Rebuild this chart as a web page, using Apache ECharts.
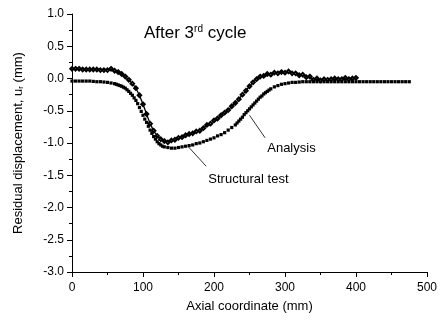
<!DOCTYPE html>
<html><head><meta charset="utf-8">
<script src="https://cdn.jsdelivr.net/npm/echarts@6/dist/echarts.min.js"></script>
<style>html,body{margin:0;padding:0;background:#fff}#c{width:440px;height:327px}</style>
</head><body><div id="c"></div>
<script>
var xTicks = [0, 100, 200, 300, 400, 500];
var yTicks = [-3.0, -2.5, -2.0, -1.5, -1.0, -0.5, 0.0, 0.5, 1.0];

var testX = [0,5,10,15,20,25,30,35,40,45,50,55,60,65,70,75,80,85,90,95,100,105,110,115,120,125,130,135,140,145,150,155,160,165,170,175,180,185,190,195,200,205,210,215,220,225,230,235,240,245,250,255,260,265,270,275,280,285,290,295,300,305,310,315,320,325,330,335,340,345,350,355,360,365,370,375,380,385,390,395,400];
var testY = [0.15,0.15,0.15,0.14,0.14,0.14,0.14,0.14,0.13,0.13,0.13,0.15,0.12,0.10,0.07,0.03,-0.02,-0.08,-0.15,-0.26,-0.40,-0.55,-0.70,-0.81,-0.89,-0.94,-0.97,-0.99,-0.96,-0.95,-0.92,-0.91,-0.88,-0.86,-0.85,-0.82,-0.81,-0.77,-0.72,-0.70,-0.65,-0.62,-0.57,-0.53,-0.49,-0.43,-0.38,-0.32,-0.25,-0.19,-0.12,-0.06,-0.01,0.03,0.04,0.07,0.06,0.09,0.08,0.10,0.09,0.11,0.08,0.08,0.05,0.06,0.02,0.03,-0.02,0.00,-0.03,-0.01,-0.02,-0.01,0.00,-0.01,-0.01,0.01,-0.01,0.00,0.01];

var analysisX = [0,5,10,15,20,25,30,35,40,45,50,55,60,62.5,65,67.5,70,72.5,75,77.5,80,82.5,85,87.5,90,92.5,95,97.5,100,102.5,105,107.5,110,112.5,115,117.5,120,122.5,125,127.5,130,135,140,145,150,155,160,165,170,175,180,185,190,195,200,205,210,215,220,225,230,232.5,235,237.5,240,242.5,245,247.5,250,252.5,255,257.5,260,262.5,265,267.5,270,272.5,275,277.5,280,285,290,295,300,305,310,315,320,325,330,335,340,345,350,355,360,365,370,375,380,385,390,395,400,405,410,415,420,425,430,435,440,445,450,455,460,465,470,475,480,485];
var analysisY = [-0.04,-0.04,-0.04,-0.04,-0.04,-0.04,-0.045,-0.05,-0.05,-0.055,-0.06,-0.07,-0.08,-0.09,-0.10,-0.11,-0.12,-0.135,-0.15,-0.175,-0.20,-0.23,-0.26,-0.30,-0.34,-0.39,-0.45,-0.51,-0.57,-0.63,-0.68,-0.74,-0.80,-0.85,-0.90,-0.94,-0.98,-1.01,-1.03,-1.05,-1.06,-1.07,-1.08,-1.08,-1.07,-1.06,-1.05,-1.04,-1.03,-1.01,-1.00,-0.98,-0.96,-0.94,-0.92,-0.89,-0.87,-0.84,-0.80,-0.76,-0.72,-0.69,-0.66,-0.63,-0.60,-0.56,-0.53,-0.50,-0.47,-0.44,-0.41,-0.38,-0.35,-0.32,-0.29,-0.27,-0.24,-0.22,-0.20,-0.18,-0.16,-0.13,-0.11,-0.09,-0.08,-0.07,-0.06,-0.06,-0.055,-0.05,-0.05,-0.05,-0.05,-0.05,-0.05,-0.05,-0.05,-0.05,-0.05,-0.05,-0.05,-0.05,-0.05,-0.05,-0.05,-0.05,-0.05,-0.05,-0.05,-0.05,-0.05,-0.05,-0.05,-0.05,-0.05,-0.05,-0.05,-0.05,-0.05,-0.05];

// annotations in data coordinates: [label, textX, textY, lineFromX, lineFromY, lineToX, lineToY]
var annotations = [
  ['Analysis', 275, -1.08, 272, -0.92, 250, -0.57],
  ['Structural test', 192, -1.57, 189, -1.36, 164, -1.06]
];

function zip(a, b) { return a.map(function (v, i) { return [v, b[i]]; }); }

var FONT = 'Liberation Sans, Arial, sans-serif';
var chart = echarts.init(document.getElementById('c'), null, {renderer: 'canvas'});
var axisCommon = {
  axisLine: {show: true, onZero: false, lineStyle: {color: '#000', width: 1}},
  axisTick: {show: true, inside: false, length: 5, lineStyle: {color: '#000'}},
  minorTick: {show: true, splitNumber: 2, length: 3, lineStyle: {color: '#000'}},
  splitLine: {show: false},
  axisLabel: {color: '#000', fontFamily: FONT, fontSize: 12}
};
chart.setOption({
  animation: false,
  backgroundColor: '#fff',
  title: {
    text: 'After 3{sup|rd} cycle',
    left: 139, top: 19,
    textStyle: {fontFamily: FONT, fontSize: 17, fontWeight: 'normal', color: '#000',
      rich: {sup: {fontFamily: FONT, fontSize: 10, verticalAlign: 'top', color: '#000', padding: [0, 0, 8, 0]}}}
  },
  grid: {left: 72, right: 8, top: 14, bottom: 55, containLabel: false},
  xAxis: Object.assign({}, axisCommon, {
    type: 'value', min: xTicks[0], max: xTicks[xTicks.length - 1], interval: 100,
    name: 'Axial coordinate (mm)', nameLocation: 'middle', nameGap: 28,
    nameTextStyle: {fontFamily: FONT, fontSize: 13, color: '#000'},
    axisLabel: Object.assign({}, axisCommon.axisLabel, {margin: 10})
  }),
  yAxis: Object.assign({}, axisCommon, {
    type: 'value', min: yTicks[0], max: yTicks[yTicks.length - 1], interval: 0.5,
    name: 'Residual displacement, u{sub|r} (mm)', nameLocation: 'middle', nameGap: 47,
    nameTextStyle: {fontFamily: FONT, fontSize: 13, color: '#000',
      rich: {sub: {fontFamily: FONT, fontSize: 8, color: '#000', verticalAlign: 'bottom', padding: [6, 0, 0, 0]}}},
    axisLabel: Object.assign({}, axisCommon.axisLabel, {margin: 8, formatter: function (v) { return v.toFixed(1); }})
  }),
  series: [
    {
      name: 'Structural test', type: 'line', data: zip(testX, testY),
      symbol: 'emptyDiamond', symbolSize: 3.5, showAllSymbol: true,
      lineStyle: {color: '#000', width: 1.3},
      itemStyle: {color: '#000', borderColor: '#000', borderWidth: 0.8, opacity: 1},
      z: 3
    },
    {
      name: 'Analysis', type: 'scatter', data: zip(analysisX, analysisY),
      symbol: 'rect', symbolSize: 3.2,
      itemStyle: {color: '#000', opacity: 1},
      z: 2
    }
  ]
});

var g = [];
annotations.forEach(function (a) {
  var t = chart.convertToPixel({gridIndex: 0}, [a[1], a[2]]);
  var p1 = chart.convertToPixel({gridIndex: 0}, [a[3], a[4]]);
  var p2 = chart.convertToPixel({gridIndex: 0}, [a[5], a[6]]);
  g.push({type: 'line', shape: {x1: p1[0], y1: p1[1], x2: p2[0], y2: p2[1]}, style: {stroke: '#000', lineWidth: 0.8}});
  g.push({type: 'text', x: t[0], y: t[1], style: {text: a[0], font: '13px ' + FONT, fill: '#000', verticalAlign: 'middle', align: 'left'}});
});
chart.setOption({graphic: g});
</script></body></html>
